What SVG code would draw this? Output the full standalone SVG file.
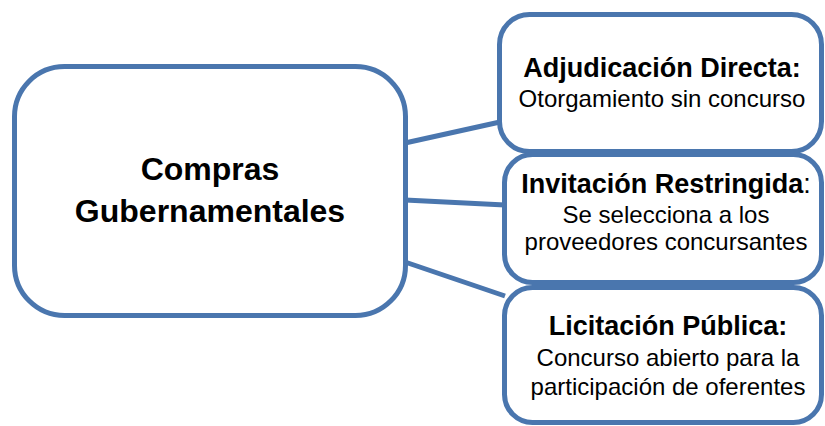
<svg xmlns="http://www.w3.org/2000/svg" width="825" height="426" viewBox="0 0 825 426">
<style>
.box{fill:#ffffff;stroke:#4a76ae;stroke-width:5}
.con{stroke:#4a76ae;stroke-width:5;fill:none}
.t{font-family:"Liberation Sans",Arial,sans-serif;fill:#000;text-anchor:middle}
.b{font-weight:bold}
.main{font-size:32px}
.h{font-size:27px}
.r{font-size:24px}
</style>
<rect width="825" height="426" fill="#ffffff"/>
<g id="connectors">
<line class="con" x1="405" y1="143" x2="500" y2="122"/>
<line class="con" x1="405" y1="200" x2="505" y2="205"/>
<line class="con" x1="405" y1="262" x2="505" y2="296"/>
</g>
<g id="node-compras">
<rect class="box" x="14.5" y="66.5" width="391" height="249" rx="50" ry="50"/>
<text class="t b main" x="210" y="180">Compras</text>
<text class="t b main" x="210" y="222">Gubernamentales</text>
</g>
<g id="node-adjudicacion">
<rect class="box" x="499.5" y="14.5" width="322" height="137" rx="30" ry="30"/>
<text class="t b h" x="662" y="77">Adjudicación Directa:</text>
<text class="t r" x="662" y="107">Otorgamiento sin concurso</text>
</g>
<g id="node-invitacion">
<rect class="box" x="504.5" y="154.5" width="317" height="128" rx="28" ry="28"/>
<text class="t h" x="666" y="193"><tspan class="b">Invitación Restringida</tspan>:</text>
<text class="t r" x="666" y="223">Se selecciona a los</text>
<text class="t r" x="666" y="250">proveedores concursantes</text>
</g>
<g id="node-licitacion">
<rect class="box" x="504.5" y="287.5" width="317" height="135" rx="28" ry="28"/>
<text class="t b h" x="668" y="335">Licitación Pública:</text>
<text class="t r" x="668" y="366">Concurso abierto para la</text>
<text class="t r" x="668" y="395">participación de oferentes</text>
</g>
</svg>
